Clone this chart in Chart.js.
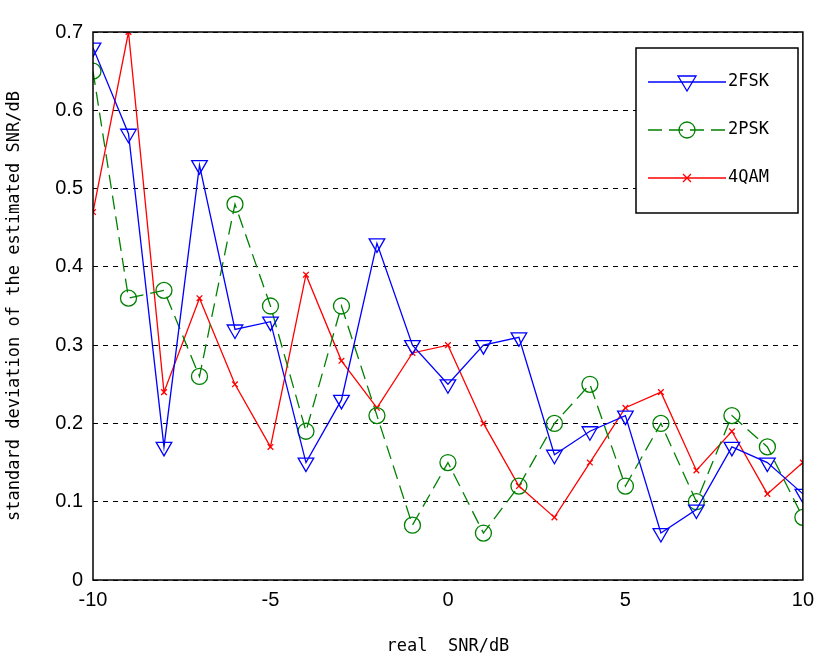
<!DOCTYPE html>
<html>
<head>
<meta charset="utf-8">
<script src="https://cdn.jsdelivr.net/npm/chart.js@4.4.0/dist/chart.umd.min.js"></script>
<style>
  body { margin: 0; background: #fff; }
  #wrap { width: 822px; height: 661px; }
</style>
</head>
<body>
<div id="wrap"><canvas id="chart" width="822" height="661"></canvas></div>
<script>
const snr = [-10,-9,-8,-7,-6,-5,-4,-3,-2,-1,0,1,2,3,4,5,6,7,8,9,10];
const fsk2 = [0.68,0.57,0.17,0.53,0.32,0.33,0.15,0.23,0.43,0.30,0.25,0.30,0.31,0.16,0.19,0.21,0.06,0.09,0.17,0.15,0.11];
const psk2 = [0.65,0.36,0.37,0.26,0.48,0.35,0.19,0.35,0.21,0.07,0.15,0.06,0.12,0.20,0.25,0.12,0.20,0.10,0.21,0.17,0.08];
const qam4 = [0.47,0.70,0.24,0.36,0.25,0.17,0.39,0.28,0.22,0.29,0.30,0.20,0.12,0.08,0.15,0.22,0.24,0.14,0.19,0.11,0.15];
const xTicks = [-10,-5,0,5,10];

function pts(arr) { return snr.map((x, i) => ({ x: x, y: arr[i] })); }

// legend box drawn inside the plot, matlab style
const legendBox = {
  id: 'legendBox',
  afterDraw(chart) {
    const ctx = chart.ctx;
    const x0 = 636, y0 = 48, w = 162, h = 165;
    ctx.save();
    ctx.fillStyle = '#fff';
    ctx.fillRect(x0, y0, w, h);
    ctx.strokeStyle = '#000';
    ctx.lineWidth = 1.5;
    ctx.strokeRect(x0, y0, w, h);
    ctx.font = '17px "DejaVu Sans Mono"';
    ctx.textBaseline = 'middle';
    chart.data.datasets.forEach((ds, i) => {
      const y = y0 + 34 + i * 48;
      ctx.strokeStyle = ds.borderColor;
      ctx.lineWidth = 1.3;
      ctx.setLineDash(ds.borderDash || []);
      ctx.beginPath(); ctx.moveTo(x0 + 12, y); ctx.lineTo(x0 + 90, y); ctx.stroke();
      ctx.setLineDash([]);
      const cx = x0 + 51;
      ctx.beginPath();
      if (ds.pointStyle === 'triangle') {
        ctx.moveTo(cx - 9, y - 6); ctx.lineTo(cx + 9, y - 6); ctx.lineTo(cx, y + 9); ctx.closePath();
      } else if (ds.pointStyle === 'circle') {
        ctx.arc(cx, y, 8, 0, Math.PI * 2);
      } else {
        ctx.moveTo(cx - 4, y - 4); ctx.lineTo(cx + 4, y + 4); ctx.moveTo(cx + 4, y - 4); ctx.lineTo(cx - 4, y + 4);
      }
      ctx.stroke();
      ctx.fillStyle = '#000';
      ctx.fillText(ds.label, x0 + 92, y);
    });
    ctx.restore();
  }
};

const frame = {
  id: 'frame',
  afterDatasetsDraw(chart) {
    const a = chart.chartArea, ctx = chart.ctx;
    ctx.save();
    ctx.strokeStyle = '#000'; ctx.lineWidth = 1.5;
    ctx.strokeRect(a.left, a.top, a.right - a.left, a.bottom - a.top);
    ctx.restore();
  }
};

new Chart(document.getElementById('chart').getContext('2d'), {
  type: 'line',
  data: {
    datasets: [
      { label: '2FSK', data: pts(fsk2), borderColor: '#0000ff', borderWidth: 1.3,
        pointStyle: 'triangle', rotation: 180, pointRadius: 9, pointBorderColor: '#0000ff',
        pointBackgroundColor: 'transparent', pointBorderWidth: 1.3, tension: 0 },
      { label: '2PSK', data: pts(psk2), borderColor: '#008000', borderWidth: 1.3, borderDash: [14, 7],
        pointStyle: 'circle', pointRadius: 8, pointBorderColor: '#008000',
        pointBackgroundColor: 'transparent', pointBorderWidth: 1.3, tension: 0 },
      { label: '4QAM', data: pts(qam4), borderColor: '#ff0000', borderWidth: 1.3,
        pointStyle: 'crossRot', pointRadius: 4, pointBorderColor: '#ff0000', pointBorderWidth: 1.3, tension: 0 }
    ]
  },
  options: {
    responsive: false,
    animation: false,
    layout: { padding: { top: 32, right: 14, left: 0, bottom: 0 } },
    plugins: { legend: { display: false }, tooltip: { enabled: false } },
    scales: {
      x: {
        type: 'linear', min: -10, max: 10,
        afterBuildTicks: s => { s.ticks = xTicks.map(v => ({ value: v })); },
        afterFit: s => { s.height = 81; },
        grid: { display: false, drawTicks: false },
        border: { display: false },
        ticks: { color: '#000', font: { family: 'Liberation Sans', size: 20 }, padding: 8 },
        title: { display: true, text: 'real  SNR/dB', color: '#000',
          font: { family: 'DejaVu Sans Mono', size: 17 }, padding: { top: 0 } }
      },
      y: {
        min: 0, max: 0.7,
        afterFit: s => { s.width = 93; },
        grid: { color: '#000', lineWidth: 1, drawTicks: false },
        border: { display: false, dash: [5, 5] },
        ticks: { stepSize: 0.1, color: '#000', font: { family: 'Liberation Sans', size: 20 }, padding: 10,
          callback: v => Number(v.toFixed(1)).toString() },
        title: { display: true, text: 'standard deviation of the estimated SNR/dB', color: '#000',
          font: { family: 'DejaVu Sans Mono', size: 17 }, padding: { bottom: 4 } }
      }
    }
  },
  plugins: [frame, legendBox]
});
</script>
</body>
</html>
